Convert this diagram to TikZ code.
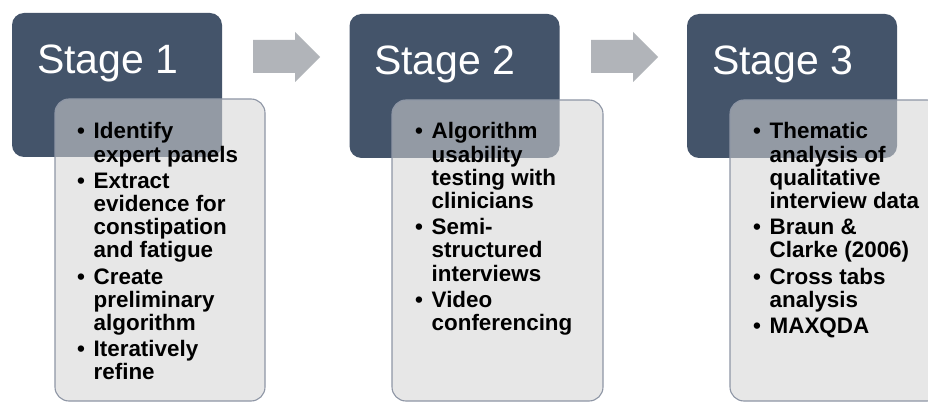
\documentclass[tikz,border=0pt]{standalone}
\usepackage{fontspec}
\setmainfont{Liberation Sans}
\usetikzlibrary{calc}
\definecolor{darkbox}{HTML}{44546A}
\definecolor{lightfill}{HTML}{D5D5D5}
\definecolor{lightline}{HTML}{8E96A5}
\definecolor{arrowgray}{HTML}{B1B4B9}
\tikzset{
  stagebox/.style={fill=darkbox, draw=none, rounded corners=12pt},
  infobox/.style={fill=lightfill, fill opacity=0.55, draw=lightline, draw opacity=1, line width=1.1pt, rounded corners=14pt},
  stagetitle/.style={anchor=base west, inner sep=0pt, text=white, font=\fontsize{41}{41}\selectfont},
  bullets/.style={anchor=base west, inner sep=0pt, align=left, text=black, font=\fontsize{22.4}{23.2}\selectfont\bfseries},
  blockarrow/.style={fill=arrowgray, draw=none}
}
\newcommand{\bl}{\makebox[16.5pt][l]{•}}
\begin{document}
\begin{tikzpicture}[x=1pt,y=-1pt]
\path[use as bounding box, clip] (0,0) rectangle (928,403);
\fill[white] (0,0) rectangle (928,403);
% dark stage boxes
\path[stagebox] (12,13) rectangle (222,157);
\path[stagebox] (349.5,14) rectangle (559.5,158);
\path[stagebox] (687,14) rectangle (897,158);
% block arrows
\path[blockarrow] (253,40) -- (295,40) -- (295,32) -- (320,57) -- (295,82) -- (295,73) -- (253,73) -- cycle;
\path[blockarrow] (591,40) -- (633,40) -- (633,32) -- (658,57) -- (633,82) -- (633,73) -- (591,73) -- cycle;
% light boxes
\path[infobox] (55,99) rectangle (265,401);
\path[infobox] (392,100) rectangle (603,401);
\path[infobox] (730,100) rectangle (941,401);
% titles
\node[stagetitle] (s1) at (37,74) {Stage 1};
\node[stagetitle] (s2) at (374,75) {Stage 2};
\node[stagetitle] (s3) at (712,75) {Stage 3};
% bullet lists
\node[bullets] (b1) at (77,139) {\begin{tabular}[t]{@{}l@{}l@{}}
\bl & Identify\\ & expert panels\\[3pt]
\bl & Extract\\ & evidence for\\ & constipation\\ & and fatigue\\[3pt]
\bl & Create\\ & preliminary\\ & algorithm\\[3pt]
\bl & Iteratively\\ & refine
\end{tabular}};
\node[bullets] (b2) at (415,139) {\begin{tabular}[t]{@{}l@{}l@{}}
\bl & Algorithm\\ & usability\\ & testing with\\ & clinicians\\[3pt]
\bl & Semi-\\ & structured\\ & interviews\\[3pt]
\bl & Video\\ & conferencing
\end{tabular}};
\node[bullets] (b3) at (753,139) {\begin{tabular}[t]{@{}l@{}l@{}}
\bl & Thematic\\ & analysis of\\ & qualitative\\ & interview data\\[3pt]
\bl & Braun \&\\ & Clarke (2006)\\[3pt]
\bl & Cross tabs\\ & analysis\\[3pt]
\bl & MAXQDA
\end{tabular}};
\end{tikzpicture}
\end{document}
